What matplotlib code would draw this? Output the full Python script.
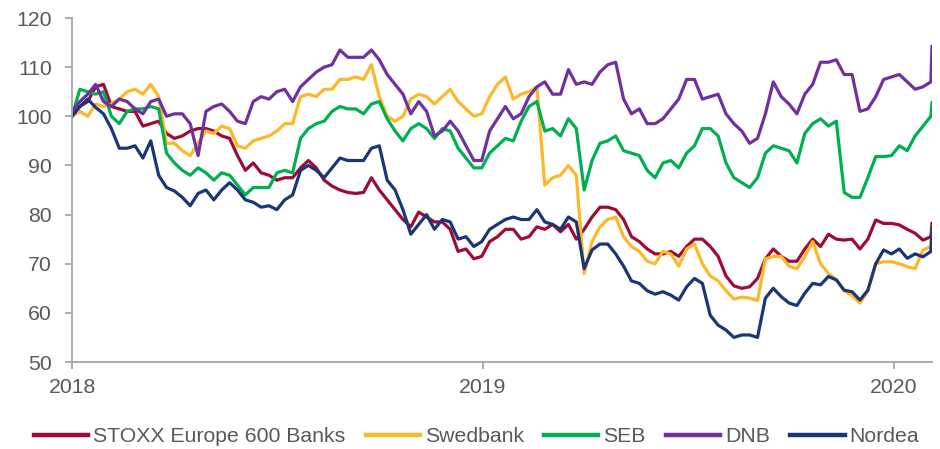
import matplotlib
matplotlib.use("Agg")
import matplotlib.pyplot as plt
import pandas as pd

plt.rcParams['font.family'] = ['Liberation Sans', 'DejaVu Sans']

# Weekly observations from 2018-01-01 to 2020-02-03, plus the final day 2020-02-04
dates = list(pd.date_range("2018-01-01", periods=110, freq="7D")) + [pd.Timestamp("2020-02-04")]

stoxx = [100, 102, 103, 106, 106.5, 102, 101.5, 101, 101, 98, 98.5, 99, 96.5, 95.5, 96, 97, 97.5, 97.5, 97,
         96, 95.5, 92, 89, 90.5, 88.5, 88, 87, 87.5, 87.5, 89.5, 91, 89.5, 87, 85.8, 85, 84.5, 84.3,
         84.5, 87.5, 85, 83, 81, 79, 77.5, 80.5, 79.5, 78.5, 78.5, 77, 72.5, 73, 71, 71.5, 74.5, 75.5,
         77, 77, 75, 75.5, 77.5, 77, 78, 76.5, 78, 75, 77, 79.5, 81.5, 81.5, 81, 79, 75.5, 74.5, 73,
         72, 72, 72.5, 71.5, 73.5, 75, 75, 73.5, 71.5, 67.5, 65.5, 65, 65.3, 67, 71, 73, 71.5, 70.5,
         70.5, 73, 75, 73.5, 76, 75, 74.8, 75, 73, 75, 78.9, 78.2, 78.2, 77.9, 77, 76.2, 74.8, 75.5,
         78.2]

swedbank = [100, 101, 100, 102.5, 102, 102.5, 103.5, 105, 105.5, 104.5, 106.5, 104, 94.5, 94.5, 93, 92, 94.5, 97, 96.5,
            98, 97.5, 94, 93.5, 95, 95.5, 96, 97, 98.5, 98.5, 104, 104.5, 104, 105.5, 105.5, 107.5, 107.5, 108,
            107.5, 110.5, 104, 100, 99, 100, 103.5, 104.5, 104, 102.5, 104, 105.5, 103, 101.5, 100, 100.5, 104, 106.5,
            108, 103.5, 104.5, 105, 106, 86, 87.5, 88, 90, 88, 68, 74.5, 77.5, 79, 79.5, 75.5, 73.5, 72.5, 70.5,
            70, 72.5, 72, 69.5, 73, 74, 70, 67.5, 66.5, 64.5, 62.8, 63.2, 63, 62.5, 71, 71.5, 71.5, 69.5,
            69, 71.5, 74.5, 70, 68, 66.8, 64.5, 63.5, 62, 64.5, 70, 70.4, 70.4, 70, 69.4, 69, 72.8, 73.5,
            76.5]

seb = [100, 105.5, 105, 104.5, 105, 100, 98.5, 101, 101.5, 101.5, 102, 101.5, 92.5, 90.5, 89, 88, 89.5, 88.5, 87,
       88.5, 88, 86, 84, 85.5, 85.5, 85.5, 88.5, 89, 88.5, 95.5, 97.5, 98.5, 99, 101, 102, 101.5, 101.5,
       100.5, 102.5, 103, 99.5, 97, 95, 97.5, 98.5, 97.5, 95.5, 97.5, 97, 93.5, 91.5, 89.5, 89.5, 92.5, 94,
       95.5, 95, 99, 102, 103, 97, 97.5, 96, 99.5, 97.5, 85, 91, 94.5, 95, 96, 93, 92.5, 92, 89,
       87.5, 90.5, 91, 89.5, 92.5, 94, 97.5, 97.5, 96, 90.5, 87.5, 86.5, 85.5, 87.5, 92.5, 94, 93.5, 93,
       90.5, 96.5, 98.5, 99.5, 98, 99, 84.5, 83.5, 83.5, 87.5, 91.8, 91.8, 92, 94, 93, 96, 98, 100,
       102.8]

dnb = [101, 103, 104.5, 106.5, 103, 102, 103.5, 103, 101.5, 100.5, 103, 103.5, 100, 100.5, 100.5, 98.5, 92, 101, 102,
       102.5, 101, 99, 98.5, 103, 104, 103.5, 105, 105.5, 103, 106, 107.5, 109, 110, 110.5, 113.5, 112, 112,
       112, 113.5, 111.5, 108.5, 106.5, 104.5, 100.5, 103, 101, 96, 97, 99, 97, 94, 91, 91, 97, 99.5,
       102, 99.5, 100.5, 104, 106, 107, 104.5, 104.5, 109.5, 106.5, 107, 106.5, 109, 110.5, 111, 103.5, 100.5, 101.5, 98.5,
       98.5, 99.5, 101.5, 103.5, 107.5, 107.5, 103.5, 104, 104.5, 100.5, 98.5, 97, 94.5, 95.5, 100.5, 107, 104, 102.5,
       100.5, 104.5, 106.5, 111, 111, 111.5, 108.5, 108.5, 101, 101.5, 104, 107.5, 108, 108.5, 107, 105.5, 106, 107,
       114.2]

nordea = [100, 102, 103.5, 101.8, 100.5, 97.5, 93.5, 93.5, 94, 91.5, 95, 88, 85.5, 84.8, 83.5, 81.8, 84.3, 85, 83,
          85, 86.5, 85, 83, 82.5, 81.5, 81.8, 81, 83, 84, 89, 90, 89, 87.5, 89.5, 91.5, 91, 91,
          91, 93.5, 94, 87, 85, 81, 76, 78, 80, 77, 79, 78.5, 75, 75.5, 73.5, 74.5, 77, 78,
          79, 79.5, 79, 79, 81, 78.5, 78, 77, 79.5, 78.5, 69, 72.8, 74, 74, 72, 69.5, 66.5, 66, 64.5,
          63.8, 64.3, 63.6, 62.6, 65.3, 67, 66, 59.5, 57.5, 56.5, 55, 55.5, 55.5, 55, 63, 65, 63.3, 62,
          61.5, 64, 66, 65.7, 67.4, 66.7, 64.6, 64.3, 62.6, 64.6, 70, 72.8, 72, 73, 71.1, 72, 71.4, 72.5,
          77]

series_names = ["STOXX Europe 600 Banks", "Swedbank", "SEB", "DNB", "Nordea"]
series_values = [stoxx, swedbank, seb, dnb, nordea]
colors = ["#9E0B36", "#FDB827", "#00B050", "#7030A0", "#1B3677"]

y_ticks = [50, 60, 70, 80, 90, 100, 110, 120]
x_ticks = ["2018-01-01", "2019-01-01", "2020-01-01"]
x_ticklabels = ["2018", "2019", "2020"]

fig = plt.figure(figsize=(9.4, 4.49), dpi=100)
ax = fig.add_axes([72 / 940, 1 - 362 / 449, (932 - 72) / 940, (362 - 18) / 449])

for name, vals, c in zip(series_names, series_values, colors):
    ax.plot(dates, vals, color=c, lw=2.3, label=name, solid_joinstyle="round")

ax.set_ylim(50, 120)
ax.set_xlim(pd.Timestamp("2018-01-01"), pd.Timestamp("2020-02-04"))
ax.set_yticks(y_ticks)
ax.set_xticks([pd.Timestamp(t) for t in x_ticks])
ax.set_xticklabels(x_ticklabels)

spine_col = "#A6A6A6"
for s in ["top", "right"]:
    ax.spines[s].set_visible(False)
for s in ["left", "bottom"]:
    ax.spines[s].set_color(spine_col)
    ax.spines[s].set_linewidth(1.3)
ax.tick_params(axis="both", colors=spine_col, labelcolor="#595959", labelsize=15.3,
               length=5, width=1.3, direction="out")
ax.tick_params(axis="y", pad=9.5)
ax.tick_params(axis="x", pad=6.5)

fig.legend(loc="center", bbox_to_anchor=(0.507, 1 - 437 / 449), ncol=5, frameon=False,
           fontsize=15.3, handlelength=2.55, handletextpad=0.24, columnspacing=0.95,
           labelcolor="#595959")
for line in fig.legends[0].get_lines():
    line.set_linewidth(3.2)

fig.savefig("out.png", dpi=100)
